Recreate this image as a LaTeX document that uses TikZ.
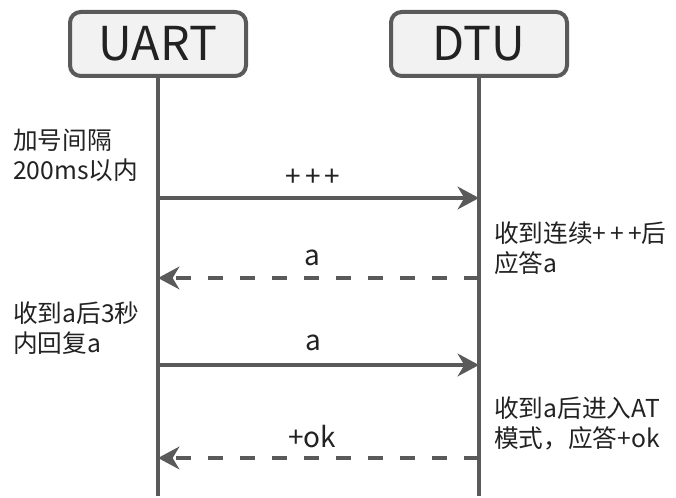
\documentclass[tikz,border=0pt]{standalone}
\usepackage{fontspec}
\setmainfont{Noto Sans CJK SC}
\usepackage{tikz}
\usetikzlibrary{arrows.meta,positioning}

\definecolor{linegray}{HTML}{5A5A5A}
\definecolor{boxgray}{HTML}{F2F2F2}
\definecolor{textdark}{HTML}{222222}

\newcommand{\pluses}{+\kern3pt+\kern3pt+}

\begin{document}
\begin{tikzpicture}[
  x=0.75pt, y=-0.75pt,
  actor/.style={draw=linegray, line width=3pt, fill=boxgray, rounded corners=8pt,
    minimum width=132pt, minimum height=48pt, inner sep=0pt,
    font=\fontsize{35}{40}\selectfont, text=textdark},
  life/.style={draw=linegray, line width=3pt},
  msg/.style={draw=linegray, line width=3pt,
    -{Stealth[length=16pt, width=17pt, inset=5pt]}},
  reply/.style={msg, dash pattern=on 11pt off 13pt},
  note/.style={align=left, anchor=north west, inner sep=0pt, text=textdark,
    font=\fontsize{18.5}{22.5}\selectfont},
  lbl/.style={inner sep=0pt, text=textdark, font=\fontsize{21}{24}\selectfont}
]
\useasboundingbox (0,0) rectangle (676,498);

% actors and lifelines
\node[actor] (uart) at (158,44) {UART};
\node[actor] (dtu) at (479,44) {DTU};
\coordinate (uend) at (158,496);
\coordinate (dend) at (479,496);
\draw[life] (uart.south) -- (uend);
\draw[life] (dtu.south) -- (dend);

% message rows
\foreach \n/\y in {1/198, 2/278, 3/365, 4/458} {
  \coordinate (u\n) at (158,\y);
  \coordinate (d\n) at (479,\y);
}
\draw[msg] (u1) -- (d1);
\draw[reply] (d2) -- (u2);
\draw[msg] (u3) -- (d3);
\draw[reply] (d4) -- (u4);

\node[lbl] (l1) at (313,178) {\pluses};
\node[lbl] (l2) at (312,258) {a};
\node[lbl] (l3) at (313,343) {a};
\node[lbl] (l4) at (312,437) {+ok};

% notes
\node[note] (n1) at (13,129) {加号间隔\\200ms以内};
\node[note] (n2) at (494,222) {收到连续\pluses 后\\应答a};
\node[note] (n3) at (13,302) {收到a后3秒\\内回复a};
\node[note] (n4) at (494,397) {收到a后进入AT\\模式，应答+ok};
\end{tikzpicture}
\end{document}
